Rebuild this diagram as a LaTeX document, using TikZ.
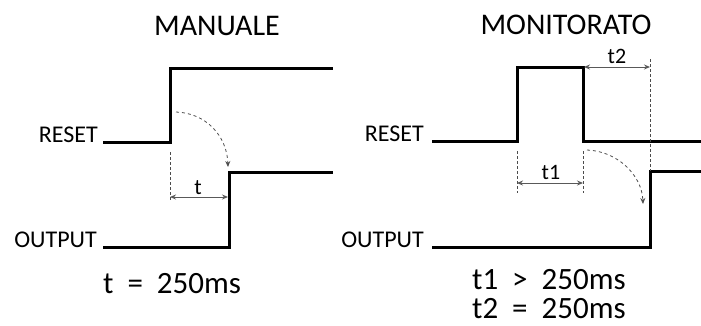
\documentclass[tikz,border=0pt]{standalone}
\usepackage{fontspec}
\setmainfont{Carlito}
\usetikzlibrary{arrows.meta}
\newcommand{\wsp}{\hspace{0.45em}}
\tikzset{
  signal/.style={line width=3pt, line join=miter, black},
  guide/.style={densely dashed, line width=0.8pt, draw=black!70},
  dim/.style={line width=0.9pt, draw=black!65, {Stealth[length=6pt,width=5pt]}-{Stealth[length=6pt,width=5pt]}},
  flow/.style={dashed, line width=0.8pt, draw=black!70, -{Stealth[length=6pt,width=5pt]}},
  title/.style={font=\fontsize{30}{34}\selectfont, anchor=base, inner sep=0pt},
  sig/.style={font=\fontsize{24}{28}\selectfont, anchor=base east, inner sep=0pt},
  dimlbl/.style={font=\fontsize{22}{26}\selectfont, anchor=base, inner sep=0pt},
  eqn/.style={font=\fontsize{31}{35}\selectfont, inner sep=0pt, text depth=0pt}
}
\begin{document}
\begin{tikzpicture}[x=1pt,y=-1pt]
\useasboundingbox (0,0) rectangle (701,325);
% ---------- left: MANUALE ----------
\node[title] (t1) at (217,35) {MANUALE};
\node[sig] (lreset) at (98,142) {RESET};
\node[sig] (lout) at (97,247) {OUTPUT};
\coordinate (lr0) at (103,142);
\coordinate (lr1) at (170,142);
\coordinate (lr2) at (170,68);
\coordinate (lr3) at (333,68);
\coordinate (lo0) at (103,247);
\coordinate (lo1) at (229,247);
\coordinate (lo2) at (229,172);
\coordinate (lo3) at (333,172);
\draw[signal] (lr0) -- (lr1) -- (lr2) -- (lr3);
\draw[signal] (lo0) -- (lo1) -- (lo2) -- (lo3);
\coordinate (lg0) at (170,152);
\coordinate (lg1) at (170,201);
\draw[guide] (lg0) -- (lg1);
\coordinate (ld0) at (170,197);
\coordinate (ld1) at (228,197);
\draw[dim] (ld0) -- (ld1);
\node[dimlbl] (lt) at (198,194) {t};
\coordinate (lc0) at (176,112);
\coordinate (lc1) at (228,167);
\draw[flow] (lc0) .. controls (206,113) and (227,136) .. (lc1);
\node[eqn, anchor=base west] (leq) at (103,293) {t\wsp=\wsp250ms};
% ---------- right: MONITORATO ----------
\node[title] (t2) at (566,34) {MONITORATO};
\node[sig] (rreset) at (424,141) {RESET};
\node[sig] (rout) at (424,247) {OUTPUT};
\coordinate (rr0) at (432,141);
\coordinate (rr1) at (517,141);
\coordinate (rr2) at (517,67);
\coordinate (rr3) at (583,67);
\coordinate (rr4) at (583,141);
\coordinate (rr5) at (701,141);
\coordinate (ro0) at (432,247);
\coordinate (ro1) at (650,247);
\coordinate (ro2) at (650,171);
\coordinate (ro3) at (701,171);
\draw[signal] (rr0) -- (rr1) -- (rr2) -- (rr3) -- (rr4) -- (rr5);
\draw[signal] (ro0) -- (ro1) -- (ro2) -- (ro3);
\coordinate (rg0) at (517,151);
\coordinate (rg1) at (517,193);
\coordinate (rg2) at (583,151);
\coordinate (rg3) at (583,193);
\coordinate (rg4) at (650,59);
\coordinate (rg5) at (650,171);
\draw[guide] (rg0) -- (rg1);
\draw[guide] (rg2) -- (rg3);
\draw[guide] (rg4) -- (rg5);
\coordinate (rd0) at (517,183);
\coordinate (rd1) at (583,183);
\draw[dim] (rd0) -- (rd1);
\node[dimlbl] (rt1) at (551,179) {t1};
\coordinate (rd2) at (584,67);
\coordinate (rd3) at (650,67);
\draw[dim] (rd2) -- (rd3);
\node[dimlbl] (rt2) at (617,63) {t2};
\coordinate (rc0) at (587,150);
\coordinate (rc1) at (643,204);
\draw[flow] (rc0) .. controls (617,151) and (642,175) .. (rc1);
\node[eqn, anchor=base west] (req1) at (472,289) {t1\wsp>\wsp250ms};
\node[eqn, anchor=base west] (req2) at (472,318) {t2\wsp=\wsp250ms};
\end{tikzpicture}
\end{document}
